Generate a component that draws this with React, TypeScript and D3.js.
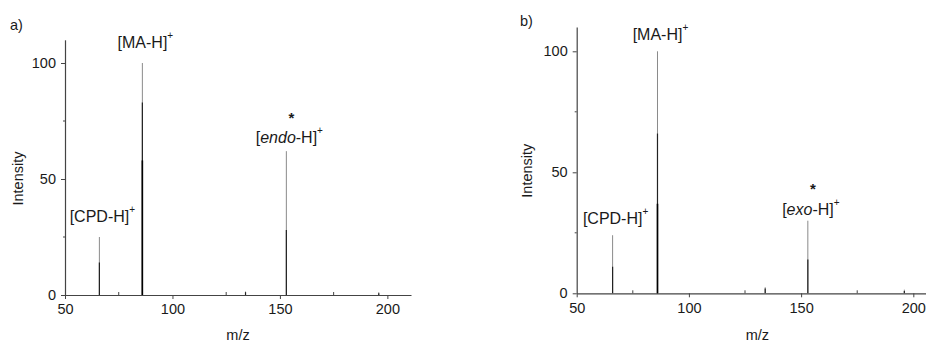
import { useEffect, useRef } from 'react';
import * as d3 from 'd3';

// peak positions (m/z) shared by both spectra
const peakMz = [66, 86, 134, 153, 196];

// spectrum a) - full peak height, and the darker inner parts of each stick
const topA = [25, 100, 1.5, 62, 1.2];
const midA = [14, 83, 1.2, 28, 0.8];
const lowA = [0, 58, 0, 0, 0];

// spectrum b)
const topB = [24, 100, 2.5, 30, 1.5];
const midB = [11, 66, 2, 14, 1];
const lowB = [0, 37, 0, 0, 0];

const xTicks = [50, 100, 150, 200];
const xMinor = [75, 125, 175];
const yTicks = [0, 50, 100];
const yMinor = [25, 75];

// annotations: peak, label, value of the label baseline
const labelsA = [
    { mz: 66, pre: '[CPD-H]', it: '', post: '', at: 31.5, star: null },
    { mz: 86, pre: '[MA-H]', it: '', post: '', at: 106.5, star: null },
    { mz: 153, pre: '[', it: 'endo', post: '-H]', at: 65.5, star: 74 },
];
const labelsB = [
    { mz: 66, pre: '[CPD-H]', it: '', post: '', at: 28.5, star: null },
    { mz: 86, pre: '[MA-H]', it: '', post: '', at: 104.7, star: null },
    { mz: 153, pre: '[', it: 'exo', post: '-H]', at: 32.4, star: 41 },
];

const FONT = '"Liberation Sans", Arial, sans-serif';
const AXIS = '#444';
const TEXT = '#1a1a1a';

type Label = { mz: number; pre: string; it: string; post: string; at: number; star: number | null };

type PanelProps = {
    tag: string;
    top: number[];
    mid: number[];
    low: number[];
    labels: Label[];
    x0: number;
    x1: number;
    y0: number;
    y1: number;
    tagX: number;
    tagY: number;
    titleX: number;
    titleY: number;
    mzY: number;
};

const Panel = (p: PanelProps) => {
    const gRef = useRef<SVGGElement>(null);

    useEffect(() => {
        const g = d3.select(gRef.current);
        g.selectAll('*').remove();

        const x = d3.scaleLinear().domain([50, 211]).range([p.x0, p.x1]);
        const y = d3.scaleLinear().domain([0, 110]).range([p.y0, p.y1]);

        // axes
        const xa = g.append('g')
            .attr('transform', `translate(0,${p.y0})`)
            .call(d3.axisBottom(x).tickValues(xTicks).tickSize(4).tickSizeOuter(0).tickPadding(5));
        const ya = g.append('g')
            .attr('transform', `translate(${p.x0},0)`)
            .call(d3.axisLeft(y).tickValues(yTicks).tickSize(4).tickSizeOuter(0).tickPadding(5));

        [xa, ya].forEach(a => {
            a.select('.domain').attr('stroke', AXIS).attr('stroke-width', 1.2);
            a.selectAll('line').attr('stroke', AXIS).attr('stroke-width', 1);
            a.selectAll('text')
                .attr('fill', TEXT)
                .style('font-family', FONT)
                .style('font-size', '14.5px');
        });

        // minor ticks
        g.selectAll('.xm').data(xMinor).enter().append('line')
            .attr('x1', d => x(d)).attr('x2', d => x(d))
            .attr('y1', p.y0).attr('y2', p.y0 - 3)
            .attr('stroke', AXIS);
        g.selectAll('.ym').data(yMinor).enter().append('line')
            .attr('x1', p.x0).attr('x2', p.x0 - 2)
            .attr('y1', d => y(d)).attr('y2', d => y(d))
            .attr('stroke', AXIS);

        // sticks
        const layers = [
            { v: p.top, c: '#8a8a8a', w: 1 },
            { v: p.mid, c: '#222', w: 1.2 },
            { v: p.low, c: '#000', w: 1.6 },
        ];
        layers.forEach(l => {
            g.append('g').selectAll('line')
                .data(peakMz.map((m, i) => ({ m, v: l.v[i] })).filter(d => d.v > 0))
                .enter().append('line')
                .attr('x1', d => x(d.m)).attr('x2', d => x(d.m))
                .attr('y1', y(0)).attr('y2', d => y(d.v))
                .attr('stroke', l.c)
                .attr('stroke-width', l.w);
        });

        // peak labels
        p.labels.forEach(lb => {
            const t = g.append('text')
                .attr('x', x(lb.mz) + 3)
                .attr('y', y(lb.at))
                .attr('text-anchor', 'middle')
                .attr('fill', TEXT)
                .style('font-family', FONT)
                .style('font-size', '16px');
            t.append('tspan').text(lb.pre);
            if (lb.it) {
                t.append('tspan').style('font-style', 'italic').text(lb.it);
                t.append('tspan').text(lb.post);
            }
            t.append('tspan').attr('dy', -9).style('font-size', '10px').text('+');

            if (lb.star !== null) {
                g.append('text')
                    .attr('x', x(lb.mz) + 5)
                    .attr('y', y(lb.star))
                    .attr('text-anchor', 'middle')
                    .attr('fill', TEXT)
                    .style('font-family', FONT)
                    .style('font-size', '15px')
                    .style('font-weight', 'bold')
                    .text('*');
            }
        });

        // titles
        g.append('text')
            .attr('transform', `translate(${p.titleX},${p.titleY}) rotate(-90)`)
            .attr('text-anchor', 'middle')
            .attr('fill', TEXT)
            .style('font-family', FONT)
            .style('font-size', '14.5px')
            .text('Intensity');

        g.append('text')
            .attr('x', (p.x0 + p.x1) / 2)
            .attr('y', p.mzY)
            .attr('text-anchor', 'middle')
            .attr('fill', TEXT)
            .style('font-family', FONT)
            .style('font-size', '14.5px')
            .text('m/z');

        g.append('text')
            .attr('x', p.tagX)
            .attr('y', p.tagY)
            .attr('fill', TEXT)
            .style('font-family', FONT)
            .style('font-size', '14.5px')
            .text(p.tag);
    }, [p]);

    return <g ref={gRef}></g>;
};

const App = () => {
    return (
        <svg
            width={926}
            height={343}
            style={{ position: 'absolute', left: 0, top: 0, background: '#fff' }}
        >
            <Panel
                tag="a)" top={topA} mid={midA} low={lowA} labels={labelsA}
                x0={65} x1={411} y0={295} y1={39.8}
                tagX={10} tagY={30} titleX={22.5} titleY={178.5} mzY={340}
            />
            <Panel
                tag="b)" top={topB} mid={midB} low={lowB} labels={labelsB}
                x0={576.7} x1={938} y0={293.3} y1={27.1}
                tagX={520} tagY={26} titleX={532} titleY={170.7} mzY={340}
            />
        </svg>
    );
};

export default App;
